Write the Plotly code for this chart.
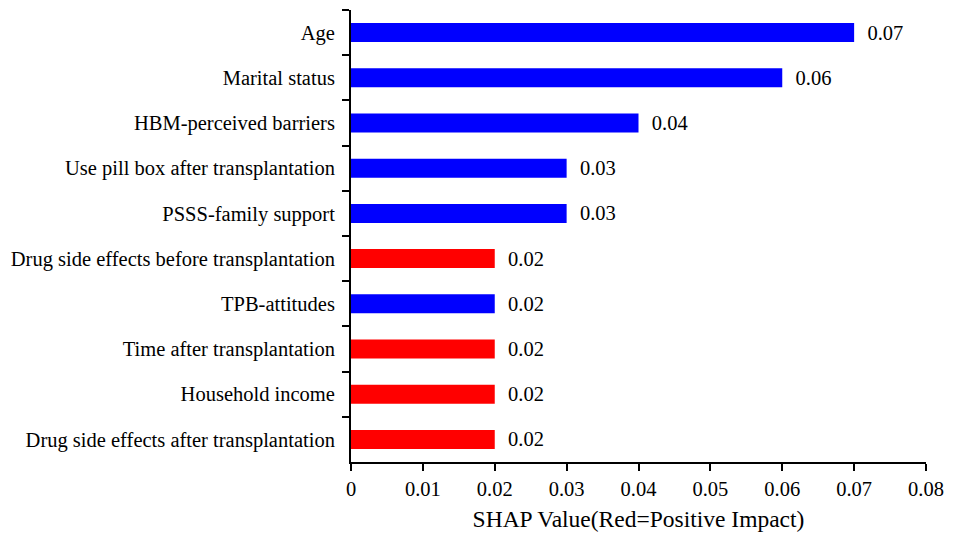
import plotly.graph_objects as go

features = [
    "Age",
    "Marital status",
    "HBM-perceived barriers",
    "Use pill box after transplantation",
    "PSSS-family support",
    "Drug side effects before transplantation",
    "TPB-attitudes",
    "Time after transplantation",
    "Household income",
    "Drug side effects after transplantation",
]
shap_values = [0.07, 0.06, 0.04, 0.03, 0.03, 0.02, 0.02, 0.02, 0.02, 0.02]
positive = [False, False, False, False, False, True, False, True, True, True]

colors = ["#ff0000" if p else "#0000ff" for p in positive]

fig = go.Figure(go.Bar(
    x=shap_values,
    y=features,
    orientation="h",
    marker=dict(color=colors, line=dict(width=0)),
    width=0.42,
    text=["\u00a0\u00a0%.2f" % v for v in shap_values],
    textposition="outside",
    textfont=dict(size=20.5, color="black"),
    constraintext="none",
    cliponaxis=False,
))

fig.update_layout(
    width=957, height=548,
    margin=dict(l=343, r=39, t=2, b=94),
    plot_bgcolor="white", paper_bgcolor="white",
    font=dict(family="Liberation Serif", size=20.5, color="black"),
    showlegend=False,
)
fig.update_xaxes(
    range=[0, 0.08], dtick=0.01, tickformat="~g",
    showline=True, linecolor="black", linewidth=2,
    ticks="outside", ticklen=7, tickwidth=2, tickcolor="black",
    showgrid=False, zeroline=False,
    title=dict(text="SHAP Value(Red=Positive Impact)", font=dict(size=23.5), standoff=12),
)
fig.update_yaxes(
    autorange="reversed",
    showline=True, linecolor="black", linewidth=2,
    ticks="outside", ticklen=7, tickwidth=2, tickcolor="black",
    tickson="boundaries", ticklabelstandoff=10, showgrid=False,
)

fig.write_html("out.html")
